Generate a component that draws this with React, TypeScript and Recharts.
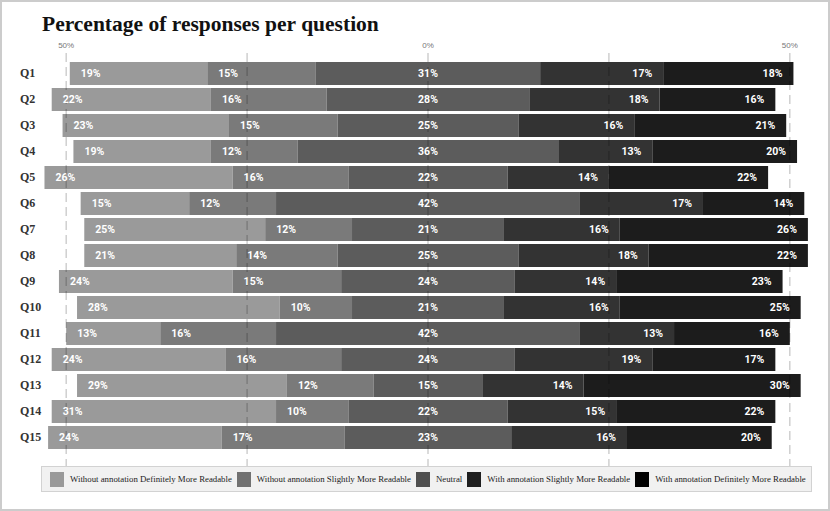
import React from 'react';
import { BarChart, Bar, XAxis, YAxis, LabelList, ReferenceLine } from 'recharts';

const questions = ['Q1', 'Q2', 'Q3', 'Q4', 'Q5', 'Q6', 'Q7', 'Q8', 'Q9', 'Q10', 'Q11', 'Q12', 'Q13', 'Q14', 'Q15'];
const withoutDefinitely = [19, 22, 23, 19, 26, 15, 25, 21, 24, 28, 13, 24, 29, 31, 24];
const withoutSlightly = [15, 16, 15, 12, 16, 12, 12, 14, 15, 10, 16, 16, 12, 10, 17];
const neutral = [31, 28, 25, 36, 22, 42, 21, 25, 24, 21, 42, 24, 15, 22, 23];
const withSlightly = [17, 18, 16, 13, 14, 17, 16, 18, 14, 16, 13, 19, 14, 15, 16];
const withDefinitely = [18, 16, 21, 20, 22, 14, 26, 22, 23, 25, 16, 17, 30, 22, 20];

const seriesNames = [
  'Without annotation Definitely More Readable',
  'Without annotation Slightly More Readable',
  'Neutral',
  'With annotation Slightly More Readable',
  'With annotation Definitely More Readable',
];
const barColors = ['#9a9a9a', '#7a7a7a', '#5c5c5c', '#333333', '#1c1c1c'];
const legendColors = ['#999999', '#717171', '#505050', '#1f1f1f', '#000000'];
const gridTicks = [-50, -25, 0, 25, 50];
const labeledTicks = [-50, 0, 50];

// shift so the invisible offset bar never goes below zero
const CENTER = 55;
const keys = ['wd', 'ws', 'n', 'as', 'ad'];

const data = questions.map((q, i) => ({
  q,
  offset: CENTER - (withoutDefinitely[i] + withoutSlightly[i] + neutral[i] / 2),
  wd: withoutDefinitely[i],
  ws: withoutSlightly[i],
  n: neutral[i],
  as: withSlightly[i],
  ad: withDefinitely[i],
}));

const labelStyle = {
  fill: '#ffffff',
  fontSize: 10.5,
  fontWeight: 700,
  fontFamily: 'Roboto, "Liberation Sans", Arial, sans-serif',
};

function TopTick({ x, payload }: any) {
  const v = payload.value - CENTER;
  if (!labeledTicks.includes(v)) return null;
  return (
    <text x={x} y={48} textAnchor="middle" fontSize={8} fill="#777" fontFamily='"Liberation Sans", Arial, sans-serif'>
      {Math.abs(v)}%
    </text>
  );
}

function QTick({ y, payload }: any) {
  return (
    <text x={20} y={y} dy={4} textAnchor="start" fontSize={12} fontWeight={700} fill="#333" fontFamily='"Liberation Serif", serif'>
      {payload.value}
    </text>
  );
}

function DashLine(props: any) {
  const top = Math.min(props.y1, props.y2);
  const bottom = Math.max(props.y1, props.y2);
  return (
    <line
      x1={props.x1}
      x2={props.x2}
      y1={top - 7}
      y2={bottom + 16}
      stroke="rgba(0,0,0,0.22)"
      strokeWidth={1.3}
      strokeDasharray="9 5"
    />
  );
}

function LegendBox() {
  return (
    <div
      style={{
        position: 'absolute',
        left: 39,
        top: 464,
        width: 771,
        height: 26,
        boxSizing: 'border-box',
        background: '#f1f1f1',
        border: '1.5px solid #d2d2d2',
        display: 'flex',
        alignItems: 'center',
        paddingLeft: 8,
        fontFamily: '"Liberation Serif", serif',
        fontSize: 8.8,
        color: '#222',
        whiteSpace: 'nowrap',
      }}
    >
      {seriesNames.map((name, i) => (
        <div key={name} style={{ display: 'flex', alignItems: 'center', marginRight: 5 }}>
          <span style={{ width: 14, height: 15, background: legendColors[i], display: 'inline-block', marginRight: 6 }} />
          <span>{name}</span>
        </div>
      ))}
    </div>
  );
}

export default function App() {
  return (
    <div
      style={{
        position: 'absolute',
        left: 0,
        top: 0,
        width: 830,
        height: 511,
        boxSizing: 'border-box',
        border: '2px solid #cccccc',
        background: '#fff',
      }}
    >
      <div
        style={{
          position: 'absolute',
          left: 40,
          top: 12,
          fontFamily: '"Liberation Serif", serif',
          fontWeight: 700,
          fontSize: 21.5,
          color: '#111',
          lineHeight: 1,
        }}
      >
        Percentage of responses per question
      </div>
      <div style={{ position: 'absolute', left: -2, top: -2 }}>
        <BarChart
          width={830}
          height={511}
          data={data}
          layout="vertical"
          margin={{ top: 30, right: 4, bottom: 61, left: 0 }}
          barSize={23}
        >
          <XAxis
            type="number"
            orientation="top"
            domain={[0, 110]}
            ticks={gridTicks.map((t) => t + CENTER)}
            axisLine={false}
            tickLine={false}
            tick={<TopTick />}
            height={30}
          />
          <YAxis type="category" dataKey="q" width={30} axisLine={false} tickLine={false} tick={<QTick />} interval={0} />
          <Bar dataKey="offset" stackId="s" fill="transparent" legendType="none" isAnimationActive={false} />
          {keys.map((k, i) => (
            <Bar key={k} dataKey={k} name={seriesNames[i]} stackId="s" fill={barColors[i]} isAnimationActive={false}>
              <LabelList
                dataKey={k}
                position={i < 2 ? 'insideLeft' : i === 2 ? 'center' : 'insideRight'}
                offset={11}
                formatter={(v: any) => `${v}%`}
                style={labelStyle}
              />
            </Bar>
          ))}
          {gridTicks.map((t) => (
            <ReferenceLine key={t} x={t + CENTER} shape={DashLine} />
          ))}
        </BarChart>
      </div>
      <LegendBox />
    </div>
  );
}
